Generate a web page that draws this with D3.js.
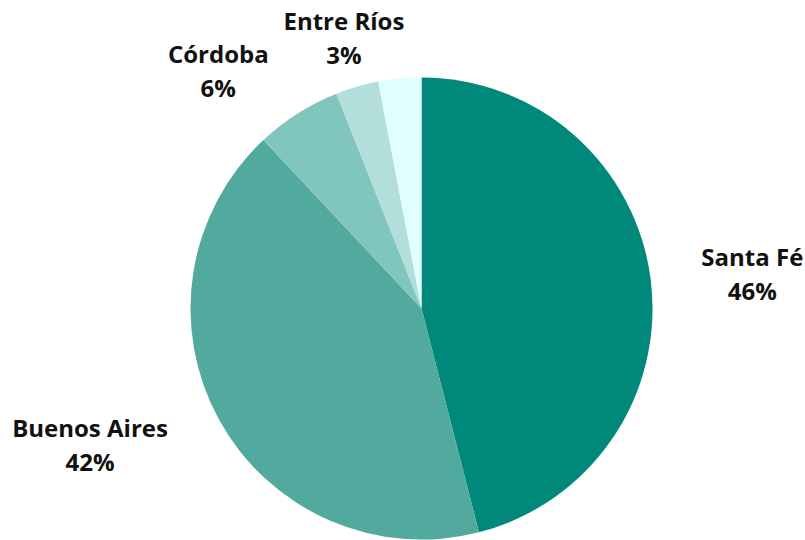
<!DOCTYPE html>
<html>
<head>
<meta charset="utf-8">
<script src="https://cdn.jsdelivr.net/npm/d3@7"></script>
<style>
  html, body { margin: 0; padding: 0; background: #ffffff; }
  svg { display: block; }
  text { font-family: "Open Sans", sans-serif; font-weight: 700; fill: #111111; }
</style>
</head>
<body>
<svg id="chart" width="805" height="540"></svg>
<script>
// Provinces and their share of the total (percent)
const provinces = ["Santa Fé", "Buenos Aires", "Córdoba", "Entre Ríos", "Otras"];
const shares = [46, 42, 6, 3, 3];
const colors = ["#00897b", "#52a99d", "#80c6bd", "#b2dfdb", "#e0ffff"];
const showLabel = [true, true, true, true, false];

// Fine placement of each label block (first line baseline) from its leader point
const labelNudge = {
  "Santa Fé": [62, -9],
  "Buenos Aires": [-94, -2],
  "Córdoba": [-58, -17],
  "Entre Ríos": [-2, -18]
};

const width = 805, height = 540;
const cx = 421.5, cy = 308.5, radius = 231;
const lineGap = 34;

const data = provinces.map((name, i) => ({ name, value: shares[i], color: colors[i], label: showLabel[i] }));

const svg = d3.select("#chart");
const g = svg.append("g").attr("transform", `translate(${cx},${cy})`);

const pie = d3.pie().value(d => d.value).sort(null);
const arc = d3.arc().innerRadius(0).outerRadius(radius);
const labelArc = d3.arc().innerRadius(radius + 40).outerRadius(radius + 40);

const arcs = pie(data);

g.selectAll("path.slice")
  .data(arcs)
  .join("path")
  .attr("class", "slice")
  .attr("d", arc)
  .attr("fill", d => d.data.color);

const labels = g.selectAll("text.label")
  .data(arcs.filter(d => d.data.label))
  .join("text")
  .attr("class", "label")
  .attr("text-anchor", "middle")
  .attr("font-size", 24)
  .attr("transform", d => {
    const [x, y] = labelArc.centroid(d);
    const [dx, dy] = labelNudge[d.data.name] || [0, 0];
    return `translate(${x + dx},${y + dy})`;
  });

labels.append("tspan")
  .attr("x", 0).attr("y", 0)
  .text(d => d.data.name);

labels.append("tspan")
  .attr("x", 0).attr("y", lineGap)
  .text(d => `${d.data.value}%`);
</script>
</body>
</html>
